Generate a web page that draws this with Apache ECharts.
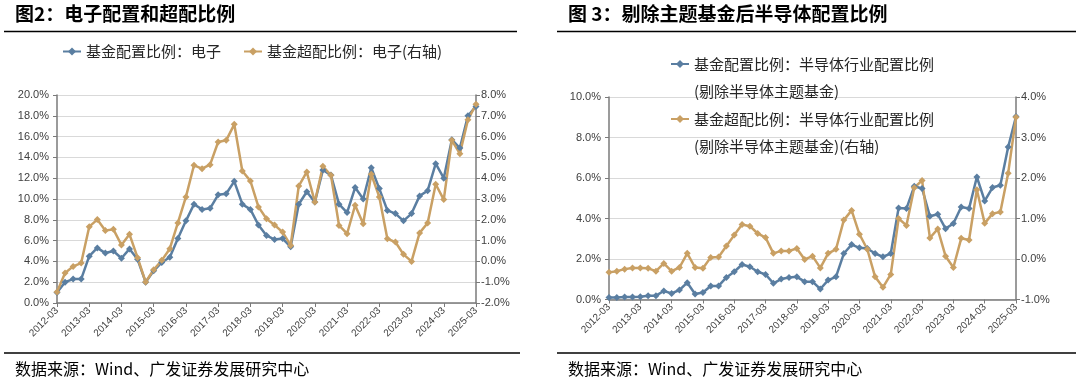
<!DOCTYPE html>
<html><head><meta charset="utf-8">
<script src="https://cdn.jsdelivr.net/npm/echarts@6/dist/echarts.min.js"></script>
<style>html,body{margin:0;padding:0;background:#fff}#c{width:1080px;height:381px}</style>
</head><body><div id="c"></div>
<script>
// quarterly categories 2012-03 .. 2025-03
const categories = [];
for (let y = 2012; y <= 2025; y++) {
  for (const m of ['03','06','09','12']) {
    if (y === 2025 && m !== '03') break;
    categories.push(y + '-' + m);
  }
}
// Fig.2 electronics: allocation (left axis, %) and overweight (right axis, %)
const elecAlloc = [1.0,2.0,2.3,2.3,4.5,5.3,4.8,5.0,4.3,5.2,4.2,2.0,3.1,3.9,4.4,6.2,7.9,9.5,9.0,9.1,10.4,10.5,11.7,9.5,9.0,7.5,6.5,6.1,6.2,5.4,9.5,10.7,9.7,12.8,12.3,9.5,8.7,11.1,10.0,13.0,11.0,8.9,8.6,7.9,8.6,10.3,10.8,13.4,12.0,15.7,14.9,18.0,18.9];
const elecOver = [-1.47,-0.56,-0.24,-0.08,1.67,2.01,1.49,1.54,0.79,1.30,0.18,-0.99,-0.40,0.05,0.61,1.85,3.1,4.62,4.46,4.65,5.74,5.82,6.59,4.35,3.87,2.62,2.05,1.75,1.41,0.77,3.62,4.30,2.86,4.57,4.14,1.73,1.33,2.70,1.81,4.19,3.10,1.09,0.93,0.34,0.0,1.37,1.85,3.71,2.97,5.82,5.18,6.81,7.55];
// Fig.3 semiconductors excl. thematic funds: allocation (left, %) and overweight (right, %)
const semiAlloc = [0.10,0.10,0.12,0.12,0.14,0.19,0.19,0.42,0.30,0.47,0.83,0.27,0.35,0.67,0.67,1.09,1.37,1.73,1.62,1.37,1.24,0.80,1.01,1.09,1.12,0.88,0.88,0.52,0.96,1.12,2.27,2.71,2.55,2.52,2.27,2.11,2.27,4.52,4.49,5.59,5.48,4.11,4.21,3.50,3.75,4.57,4.49,6.05,4.87,5.53,5.64,7.53,9.04];
const semiOver = [-0.33,-0.30,-0.25,-0.22,-0.22,-0.23,-0.30,-0.11,-0.30,-0.21,0.14,-0.21,-0.23,0.04,0.05,0.32,0.59,0.85,0.81,0.63,0.53,0.14,0.20,0.20,0.26,-0.01,0.07,-0.22,0.14,0.24,0.96,1.20,0.61,0.24,-0.44,-0.70,-0.38,1.00,0.83,1.76,1.94,0.52,0.74,0.07,-0.21,0.51,0.47,1.71,0.88,1.12,1.16,2.12,3.50];

const titles = ['图2：电子配置和超配比例', '图 3：剔除主题基金后半导体配置比例'];
const sourceText = '数据来源：Wind、广发证券发展研究中心';
const names = ['基金配置比例：电子', '基金超配比例：电子(右轴)',
  '基金配置比例：半导体行业配置比例\n(剔除半导体主题基金)',
  '基金超配比例：半导体行业配置比例\n(剔除半导体主题基金)(右轴)'];

const BLUE = '#5a7ea1', GOLD = '#c9a064';
const CJK = '"Noto Sans CJK SC", sans-serif';
const NUM = '"Liberation Sans", Arial, sans-serif';
const pct = v => v.toFixed(1) + '%';

function yAxis(gridIndex, min, max, interval, position) {
  return {
    type: 'value', gridIndex, min, max, interval, position,
    axisLine: { show: true, lineStyle: { color: '#7a7a7a', width: 1.5 } },
    axisTick: { show: true, length: 4, lineStyle: { color: '#7a7a7a' } },
    axisLabel: { formatter: pct, fontSize: 11, color: '#404040', fontFamily: NUM, margin: position === 'right' ? 5 : 8 },
    splitLine: { show: position === 'left', lineStyle: { color: '#d9d9d9', width: 1 } }
  };
}
function xAxis(gridIndex) {
  return {
    type: 'category', gridIndex, data: categories, boundaryGap: false,
    axisLine: { show: true, onZero: false, lineStyle: { color: '#7a7a7a', width: 1.5 } },
    axisTick: { show: true, interval: 3, length: 4, lineStyle: { color: '#7a7a7a' } },
    axisLabel: { interval: 3, rotate: 45, fontSize: 10, color: '#404040', fontFamily: NUM, margin: 6 },
    splitLine: { show: false }
  };
}
function line(name, data, xi, yi, color) {
  return {
    type: 'line', name, data, xAxisIndex: xi, yAxisIndex: yi,
    symbol: 'diamond', symbolSize: 7, showSymbol: true, showAllSymbol: true,
    lineStyle: { color, width: 2.5 }, itemStyle: { color },
    animation: false
  };
}

const chart = echarts.init(document.getElementById('c'), null, { renderer: 'canvas' });
chart.setOption({
  backgroundColor: '#fff',
  animation: false,
  title: [
    { text: titles[0], left: 15, top: 4, padding: 0, textStyle: { fontFamily: CJK, fontSize: 19, fontWeight: 'bold', color: '#000' } },
    { text: titles[1], left: 568, top: 4, padding: 0, textStyle: { fontFamily: CJK, fontSize: 19, fontWeight: 'bold', color: '#000' } },
    { text: sourceText, left: 15, top: 361, padding: 0, textStyle: { fontFamily: CJK, fontSize: 16, fontWeight: 'normal', color: '#000' } },
    { text: sourceText, left: 568, top: 361, padding: 0, textStyle: { fontFamily: CJK, fontSize: 16, fontWeight: 'normal', color: '#000' } }
  ],
  graphic: [
    { type: 'line', shape: { x1: 4, y1: 31.5, x2: 517, y2: 31.5 }, style: { stroke: '#000', lineWidth: 1.5 } },
    { type: 'line', shape: { x1: 557, y1: 31.5, x2: 1076, y2: 31.5 }, style: { stroke: '#000', lineWidth: 1.5 } },
    { type: 'line', shape: { x1: 4, y1: 353, x2: 520, y2: 353 }, style: { stroke: '#000', lineWidth: 1.5 } },
    { type: 'line', shape: { x1: 557, y1: 353, x2: 1076, y2: 353 }, style: { stroke: '#000', lineWidth: 1.5 } }
  ],
  legend: [
    { data: [names[0], names[1]], left: 62, top: 44, padding: 0, itemGap: 22, itemWidth: 18, itemHeight: 10,
      textStyle: { fontFamily: CJK, fontSize: 15, color: '#262626' } },
    { data: [names[2]], left: 670, top: 23.5, padding: 0, itemWidth: 18, itemHeight: 10,
      formatter: n => '\n' + n,
      textStyle: { fontFamily: CJK, fontSize: 15, color: '#262626', lineHeight: 27 } },
    { data: [names[3]], left: 670, top: 78.5, padding: 0, itemWidth: 18, itemHeight: 10,
      formatter: n => '\n' + n,
      textStyle: { fontFamily: CJK, fontSize: 15, color: '#262626', lineHeight: 27 } }
  ],
  grid: [
    { left: 57, top: 95, width: 419, height: 208 },
    { left: 609, top: 97, width: 407, height: 202.5 }
  ],
  xAxis: [xAxis(0), xAxis(1)],
  yAxis: [
    yAxis(0, 0, 20, 2, 'left'),
    yAxis(0, -2, 8, 1, 'right'),
    yAxis(1, 0, 10, 2, 'left'),
    yAxis(1, -1, 4, 1, 'right')
  ],
  series: [
    line(names[0], elecAlloc, 0, 0, BLUE),
    line(names[1], elecOver, 0, 1, GOLD),
    line(names[2], semiAlloc, 1, 2, BLUE),
    line(names[3], semiOver, 1, 3, GOLD)
  ]
});
</script></body></html>
